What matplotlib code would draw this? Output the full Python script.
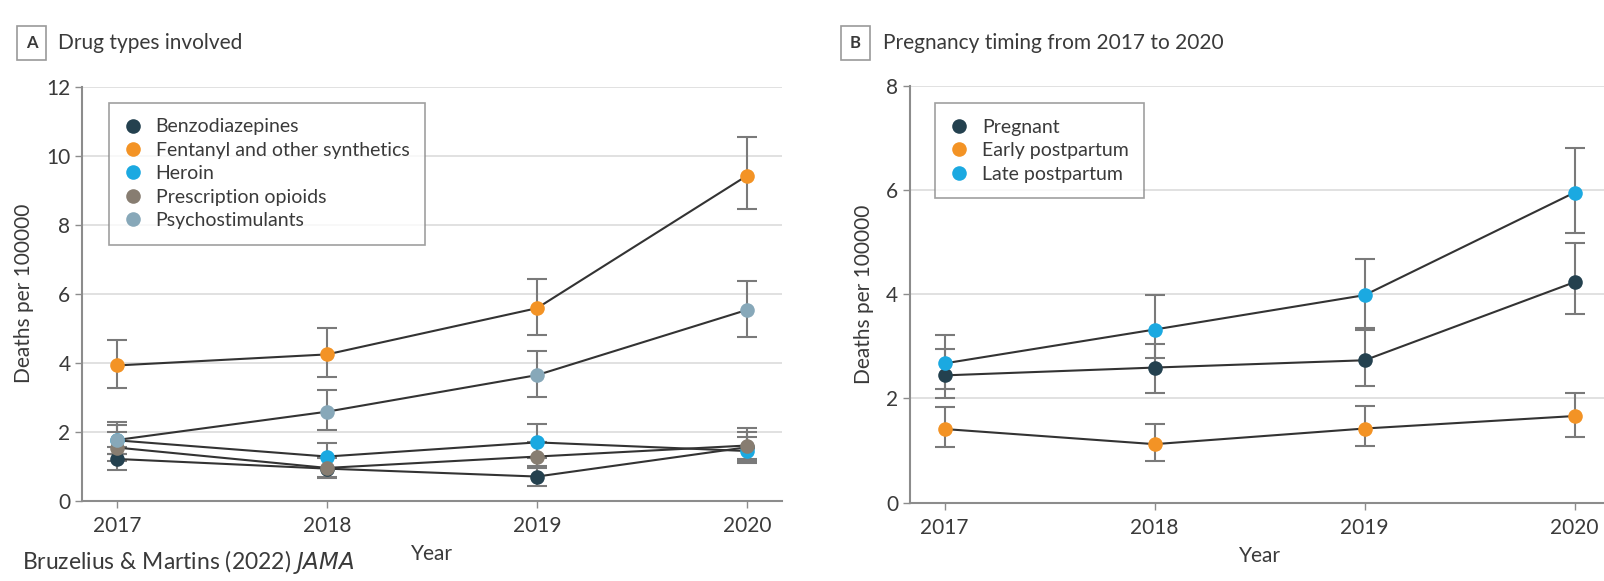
"""Overdose deaths per 100 000 by drug type and by pregnancy timing, 2017-2020 (two panels)."""
import matplotlib
matplotlib.use("Agg")
import matplotlib.pyplot as plt

plt.rcParams["font.family"] = ["Lato", "DejaVu Sans"]

years = [2017, 2018, 2019, 2020]

# panel A: drug types (point estimate, lower CI, upper CI)
drug_names = ["Benzodiazepines", "Fentanyl and other synthetics", "Heroin",
              "Prescription opioids", "Psychostimulants"]
benzo = [1.21, 0.93, 0.70, 1.55]
benzo_lo = [0.90, 0.65, 0.42, 1.15]
benzo_hi = [1.55, 1.25, 1.00, 2.00]
fentanyl = [3.92, 4.24, 5.58, 9.42]
fentanyl_lo = [3.28, 3.58, 4.80, 8.46]
fentanyl_hi = [4.66, 5.00, 6.42, 10.55]
heroin = [1.75, 1.28, 1.69, 1.44]
heroin_lo = [1.35, 0.95, 1.25, 1.08]
heroin_hi = [2.20, 1.68, 2.21, 1.85]
rx_opioids = [1.54, 0.95, 1.28, 1.60]
rx_opioids_lo = [1.15, 0.68, 0.95, 1.20]
rx_opioids_hi = [2.00, 1.30, 1.70, 2.12]
psycho = [1.76, 2.58, 3.64, 5.53]
psycho_lo = [1.35, 2.05, 3.00, 4.74]
psycho_hi = [2.27, 3.21, 4.35, 6.37]

# panel B: pregnancy timing
timing_names = ["Pregnant", "Early postpartum", "Late postpartum"]
pregnant = [2.44, 2.59, 2.73, 4.23]
pregnant_lo = [2.00, 2.11, 2.23, 3.61]
pregnant_hi = [2.94, 3.05, 3.32, 4.99]
early_pp = [1.41, 1.12, 1.42, 1.66]
early_pp_lo = [1.07, 0.80, 1.08, 1.26]
early_pp_hi = [1.84, 1.51, 1.86, 2.11]
late_pp = [2.67, 3.32, 3.98, 5.95]
late_pp_lo = [2.17, 2.77, 3.35, 5.18]
late_pp_hi = [3.22, 3.98, 4.68, 6.80]

C_DARK = "#24414f"
C_ORANGE = "#f39325"
C_BLUE = "#1ba9e1"
C_TAUPE = "#877d71"
C_STEEL = "#87a8b9"
GRID = "#dcdcdc"
SPINE = "#8c8c8c"
TXT = "#3a3a3a"


def draw_series(ax, y, lo, hi, color, label):
    yerr = [[v - l for v, l in zip(y, lo)], [h - v for v, h in zip(y, hi)]]
    ax.errorbar(years, y, yerr=yerr, fmt="none", ecolor="#7a7a7a",
                elinewidth=1.5, capsize=7, capthick=1.5, zorder=2)
    ax.plot(years, y, "-", color="#333333", lw=1.5, zorder=3)
    ax.plot(years, y, "o", color=color, ms=10.5, mec="none", zorder=4, label=label)


def style(ax, ymax, step):
    ax.set_xlim(2016.835, 2020.165)
    ax.set_ylim(0, ymax)
    ax.set_xticks(years)
    ax.set_yticks(range(0, ymax + 1, step))
    ax.grid(axis="y", color=GRID, lw=1.2, zorder=0)
    ax.set_axisbelow(True)
    for s in ["top", "right"]:
        ax.spines[s].set_visible(False)
    for s in ["left", "bottom"]:
        ax.spines[s].set_color(SPINE)
        ax.spines[s].set_linewidth(1.5)
    ax.tick_params(colors=SPINE, labelcolor=TXT, labelsize=15, length=5, width=1)
    ax.tick_params(axis="x", pad=6)
    ax.set_xlabel("Year", fontsize=15, color=TXT, labelpad=6)
    ax.set_ylabel("Deaths per 100000", fontsize=15, color=TXT, labelpad=9)


def legend(ax, x, y):
    leg = ax.legend(loc="upper left", bbox_to_anchor=(x, y), borderaxespad=0,
                    fontsize=14, labelspacing=0.33, handletextpad=0.7,
                    handlelength=0.9, borderpad=0.8, fancybox=False,
                    frameon=True)
    leg.get_frame().set_edgecolor("#888888")
    leg.get_frame().set_linewidth(1.2)
    for t in leg.get_texts():
        t.set_color(TXT)


def panel_title(fig, x_box, x_text, letter, text):
    fig.text(x_box, 0.926, letter, fontsize=12, fontweight="bold", color=TXT,
             ha="center", va="center",
             bbox=dict(boxstyle="square,pad=0.55", fc="white", ec="#9a9a9a", lw=1.2))
    fig.text(x_text, 0.926, text, fontsize=15, color=TXT, ha="left", va="center")


fig = plt.figure(figsize=(16.04, 5.81), dpi=100)
axA = fig.add_axes([0.0513, 0.1382, 0.436, 0.7126])
axB = fig.add_axes([0.5673, 0.1351, 0.436, 0.7174])

draw_series(axA, benzo, benzo_lo, benzo_hi, C_DARK, drug_names[0])
draw_series(axA, fentanyl, fentanyl_lo, fentanyl_hi, C_ORANGE, drug_names[1])
draw_series(axA, heroin, heroin_lo, heroin_hi, C_BLUE, drug_names[2])
draw_series(axA, rx_opioids, rx_opioids_lo, rx_opioids_hi, C_TAUPE, drug_names[3])
draw_series(axA, psycho, psycho_lo, psycho_hi, C_STEEL, drug_names[4])
style(axA, 12, 2)
legend(axA, 0.038, 0.961)

draw_series(axB, pregnant, pregnant_lo, pregnant_hi, C_DARK, timing_names[0])
draw_series(axB, early_pp, early_pp_lo, early_pp_hi, C_ORANGE, timing_names[1])
draw_series(axB, late_pp, late_pp_lo, late_pp_hi, C_BLUE, timing_names[2])
style(axB, 8, 2)
legend(axB, 0.036, 0.958)

panel_title(fig, 0.0196, 0.036, "A", "Drug types involved")
panel_title(fig, 0.5334, 0.5503, "B", "Pregnancy timing from 2017 to 2020")

fig.text(0.0137, 0.032, "Bruzelius & Martins (2022) $\\it{JAMA}$", fontsize=16.5,
         color=TXT, ha="left", va="center")

fig.savefig("out.png", dpi=100)
